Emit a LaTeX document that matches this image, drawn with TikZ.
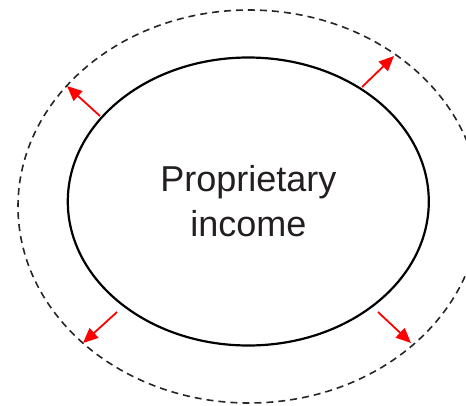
\documentclass[tikz,border=0pt]{standalone}
\usepackage{fontspec}
\setmainfont{Liberation Sans}
\usetikzlibrary{arrows.meta,shapes.geometric}
\definecolor{inktext}{HTML}{231F20}
\tikzset{
  core/.style={draw=black, line width=2.2pt, ellipse, inner sep=0pt,
    minimum width=361pt, minimum height=288pt, text=inktext,
    font=\fontsize{36}{45}\selectfont, align=center},
  boundary/.style={draw=black!85, line width=1.6pt, dash pattern=on 7pt off 5pt},
  push/.style={draw=red, line width=1.8pt, -{Triangle[length=15pt,width=13pt]}}
}
\begin{document}
\begin{tikzpicture}[x=1pt, y=-1pt]
  \useasboundingbox (0,0) rectangle (466,405);
  \clip (0,0) rectangle (466,405);
  % dashed outer boundary
  \draw[boundary] (249,206.5) ellipse [x radius=231, y radius=196.5];
  % central income body
  \node[core] (inner) at (248.3,201.5) {Proprietary\\income};
  % arrow ends on the inner body and on the boundary
  \coordinate (s1) at (100,116);  \coordinate (t1) at (67,86);
  \coordinate (s2) at (362,87);   \coordinate (t2) at (394,56);
  \coordinate (s3) at (117,312);  \coordinate (t3) at (83,343);
  \coordinate (s4) at (378,312);  \coordinate (t4) at (411,343);
  \draw[push] (s1) -- (t1);
  \draw[push] (s2) -- (t2);
  \draw[push] (s3) -- (t3);
  \draw[push] (s4) -- (t4);
\end{tikzpicture}
\end{document}
